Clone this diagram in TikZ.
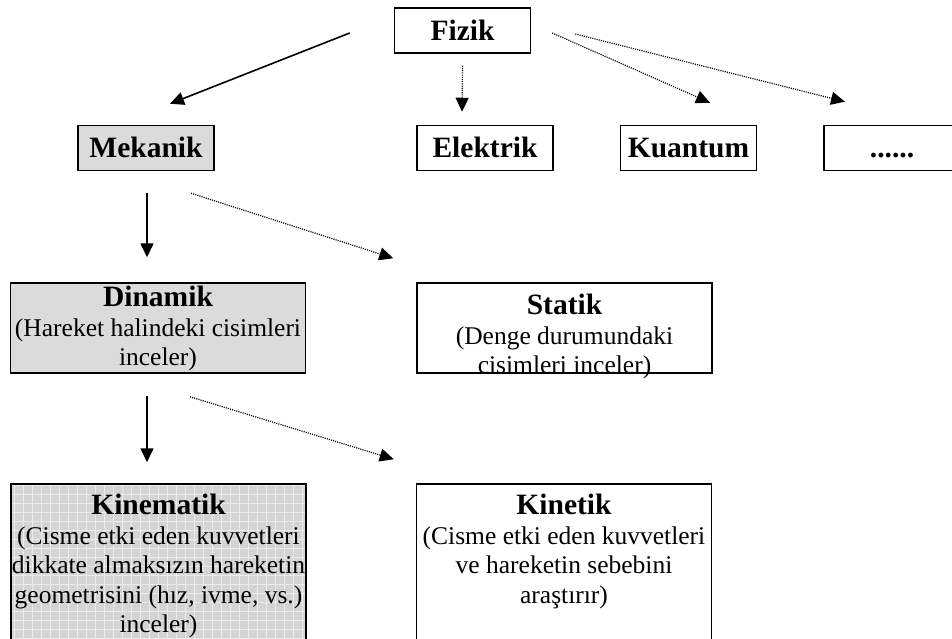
\documentclass[tikz,border=0pt]{standalone}
\usepackage{fontspec}
\setmainfont{Liberation Serif}
\usetikzlibrary{arrows.meta}

\begin{document}
\begin{tikzpicture}[x=1pt,y=-1pt,
  topic/.style={draw,line width=1.5pt,inner sep=0pt,minimum width=136pt,minimum height=45pt,
    text height=24pt,text depth=4pt,font=\fontsize{29.5}{32}\selectfont\bfseries},
  detail/.style={draw,line width=1.5pt,inner sep=0pt,minimum width=295pt,minimum height=90pt},
  body/.style={anchor=north,align=center,inner sep=0pt,font=\fontsize{25.5}{29.5}\selectfont},
  squared/.style={fill=black!17,path picture={
    \draw[black!8,line width=.6pt,step=9pt] (path picture bounding box.south west)
      grid (path picture bounding box.north east);}},
  link/.style={line width=1.6pt,-{Triangle[length=14pt,width=13pt]}},
  hint/.style={line width=1.2pt,dash pattern=on 1.1pt off 1.1pt,-{Triangle[length=14pt,width=13pt]}}
]
  \useasboundingbox (0,0) rectangle (952,639);
  \clip (0,0) rectangle (952,639);
  % top row
  \node[topic] (fizik) at (462.5,30.5) {Fizik};
  \node[topic,fill=black!14] (mekanik) at (146,148) {Mekanik};
  \node[topic] (elektrik) at (485,148) {Elektrik};
  \node[topic] (kuantum) at (688.5,148) {Kuantum};
  \node[topic] (diger) at (892,148) {......};
  % second and third row
  \node[detail,fill=black!14,label={[body,yshift=-4pt]north:{{\fontsize{29.5}{32}\selectfont\bfseries Dinamik}\\(Hareket halindeki cisimleri\\inceler)}}]
    (dinamik) at (158,328) {};
  \node[detail,label={[body,yshift=-12pt]north:{{\fontsize{29.5}{32}\selectfont\bfseries Statik}\\(Denge durumundaki\\cisimleri inceler)}}]
    (statik) at (564.5,328) {};
  \node[detail,squared,minimum height=200pt,label={[body,yshift=-11pt]north:{{\fontsize{29.5}{32}\selectfont\bfseries Kinematik}\\(Cisme etki eden kuvvetleri\\dikkate almaksızın hareketin\\geometrisini (hız, ivme, vs.)\\inceler)}}]
    (kinematik) at (158.5,584) {};
  \node[detail,minimum height=200pt,label={[body,yshift=-11pt]north:{{\fontsize{29.5}{32}\selectfont\bfseries Kinetik}\\(Cisme etki eden kuvvetleri\\ve hareketin sebebini\\araştırır)}}]
    (kinetik) at (564,584) {};
  % arrows
  \draw[link] ([shift={(-44,2.5)}]fizik.west) -- ([shift={(24,-21)}]mekanik.north);
  \draw[hint] ([shift={(0,12)}]fizik.south) -- ([shift={(-23,-13)}]elektrik.north);
  \draw[hint] ([shift={(21,2.5)}]fizik.east) -- ([shift={(21.5,-22)}]kuantum.north);
  \draw[hint] ([shift={(44,3.5)}]fizik.east) -- ([shift={(-47,-23)}]diger.north);
  \draw[link] ([shift={(1,22)}]mekanik.south) -- ([shift={(-11,-25)}]dinamik.north);
  \draw[hint] ([shift={(45,22)}]mekanik.south) -- ([shift={(-23,-24)}]statik.north west);
  \draw[link] ([shift={(-11,22)}]dinamik.south) -- ([shift={(-11.5,-21)}]kinematik.north);
  \draw[hint] ([shift={(32,23)}]dinamik.south) -- ([shift={(-22,-24)}]kinetik.north west);
\end{tikzpicture}
\end{document}
